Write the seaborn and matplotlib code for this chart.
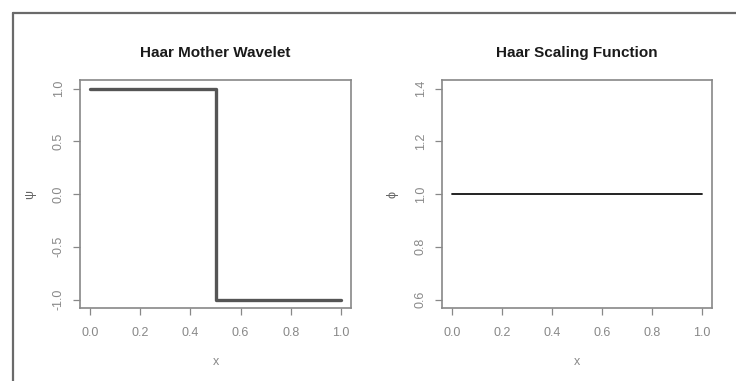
import matplotlib
matplotlib.use('Agg')
import matplotlib.pyplot as plt
import seaborn as sns
import pandas as pd

# Haar mother wavelet (step function)
psi_x = [0.0, 0.5, 0.5, 1.0]
psi_y = [1.0, 1.0, -1.0, -1.0]

# Haar scaling function
phi_x = [0.0, 1.0]
phi_y = [1.0, 1.0]

x_ticks = [0.0, 0.2, 0.4, 0.6, 0.8, 1.0]
psi_ticks = [-1.0, -0.5, 0.0, 0.5, 1.0]
phi_ticks = [0.6, 0.8, 1.0, 1.2, 1.4]

sns.set_style('white')
plt.rcParams['font.family'] = ['Liberation Sans', 'DejaVu Sans']

df_psi = pd.DataFrame({'x': psi_x, 'y': psi_y})
df_phi = pd.DataFrame({'x': phi_x, 'y': phi_y})

fig = plt.figure(figsize=(7.36, 3.81), dpi=100)
fig.patch.set_facecolor('white')

# screenshot frame (left and top edges)
fig.add_artist(plt.Line2D([0.0177, 0.0177], [0, 0.966], transform=fig.transFigure,
                          color='#6a6a6a', lw=1.6))
fig.add_artist(plt.Line2D([0.0177, 1.0], [0.966, 0.966], transform=fig.transFigure,
                          color='#6a6a6a', lw=1.6))

ax1 = fig.add_axes([0.1087, 0.1916, 0.3682, 0.598])
ax2 = fig.add_axes([0.6005, 0.1916, 0.3668, 0.598])

sns.lineplot(data=df_psi, x='x', y='y', ax=ax1, estimator=None, sort=False,
             color='#555555', linewidth=2.4)
sns.lineplot(data=df_phi, x='x', y='y', ax=ax2, estimator=None, sort=False,
             color='#111111', linewidth=1.3)


def style(ax, title, ylab, yticks, ylim):
    ax.set_xlim(-0.04, 1.04)
    ax.set_ylim(*ylim)
    ax.set_xticks(x_ticks)
    ax.set_xticklabels([f'{t:.1f}' for t in x_ticks])
    ax.set_yticks(yticks)
    ax.set_yticklabels([f'{t:.1f}' for t in yticks], rotation=90, va='center')
    ax.tick_params(axis='both', direction='out', length=5, width=0.9,
                   colors='#888888', labelcolor='#888888', labelsize=9,
                   bottom=True, left=True)
    ax.tick_params(axis='x', pad=9)
    ax.tick_params(axis='y', pad=6)
    for s in ax.spines.values():
        s.set_color('#888888')
        s.set_linewidth(1.2)
    ax.set_title(title, fontsize=11, fontweight='bold', color='#1a1a1a', pad=17)
    ax.set_xlabel('x', fontsize=9, color='#888888', labelpad=12)
    ax.set_ylabel(ylab, fontsize=9, color='#666666', labelpad=12)


style(ax1, 'Haar Mother Wavelet', 'ψ', psi_ticks, (-1.08, 1.08))
style(ax2, 'Haar Scaling Function', 'ϕ', phi_ticks, (0.568, 1.432))

fig.savefig('out.png', dpi=100)
